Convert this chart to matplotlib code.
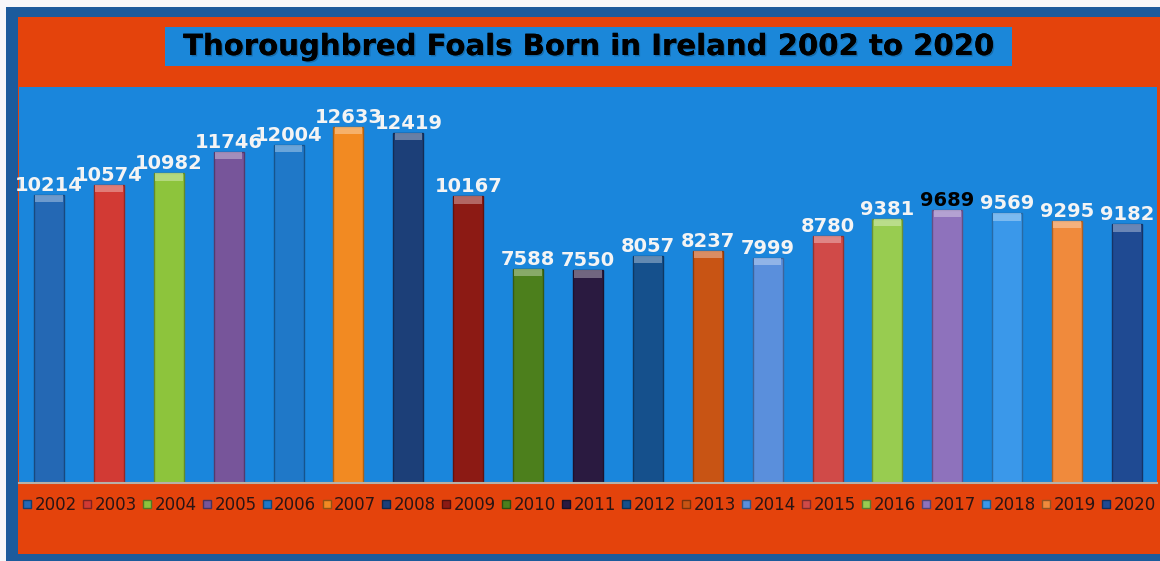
import numpy as np
import matplotlib
matplotlib.use("Agg")
import matplotlib.pyplot as plt
import matplotlib.colors as mcolors
import matplotlib.patheffects as pe
from matplotlib.patches import Rectangle
from matplotlib.lines import Line2D

years = ["2002", "2003", "2004", "2005", "2006", "2007", "2008", "2009", "2010",
         "2011", "2012", "2013", "2014", "2015", "2016", "2017", "2018", "2019", "2020"]
foals = [10214, 10574, 10982, 11746, 12004, 12633, 12419, 10167, 7588,
         7550, 8057, 8237, 7999, 8780, 9381, 9689, 9569, 9295, 9182]
bar_colors = ["#2468b4", "#d23a34", "#8dc43c", "#77559a", "#1f78c8", "#f28a22",
              "#1c3f78", "#8c1a14", "#4c7f1c", "#2a1a40", "#15508c", "#c85414",
              "#5a8fdc", "#d04a48", "#98cc50", "#8e72bc", "#3a98ea", "#f08a3c",
              "#1f4a92"]
label_colors = ["#f4f4f4"] * 19
label_colors[15] = "black"

title = "Thoroughbred Foals Born in Ireland 2002 to 2020"

W, H = 1160, 561
fig = plt.figure(figsize=(W / 100, H / 100), dpi=100)
fig.patch.set_facecolor("#f6f7f9")


def px_rect(x0, y0, x1, y1, color, z=-10):
    # rectangle given in image pixels (top-left origin)
    r = Rectangle((x0 / W, 1 - y1 / H), (x1 - x0) / W, (y1 - y0) / H,
                  transform=fig.transFigure, facecolor=color, edgecolor="none",
                  zorder=z)
    fig.patches.append(r)


# frame: dark blue border, orange panel, blue title box
px_rect(6, 7, W, H, "#1c5b9c", -12)
px_rect(18, 17, W, 554, "#e4430c", -11)
px_rect(165, 27, 1012, 66, "#1b87d9", -10)

fig.text(588 / W, 1 - 47 / H, title, ha="center", va="center",
         fontsize=21, fontweight="bold", color="black",
         path_effects=[pe.withSimplePatchShadow(offset=(1, -1),
                                                 shadow_rgbFace="black",
                                                 alpha=0.2),
                       pe.Normal()])

ax = fig.add_axes([19 / W, 1 - 483 / H, (1157 - 19) / W, (483 - 87) / H])
ax.set_facecolor("#1a86dc")

x = np.arange(len(years))
bars = ax.bar(x, foals, width=0.5, color=bar_colors, zorder=2,
              edgecolor=[tuple(np.array(mcolors.to_rgb(c)) * 0.7) for c in bar_colors],
              linewidth=1.0)

# lighter cap on top of each bar for the bevelled look
cap = 260
cap_colors = [tuple(np.array(mcolors.to_rgb(c)) * 0.55 + 0.45) for c in bar_colors]
ax.bar(x, cap, bottom=np.array(foals) - cap, width=0.46, color=cap_colors,
       alpha=0.75, zorder=3, linewidth=0)

for xi, v, lc in zip(x, foals, label_colors):
    ax.annotate(str(v), (xi, v), xytext=(0, 0), textcoords="offset points",
                ha="center", va="bottom", fontsize=14, fontweight="bold",
                color=lc, zorder=4, annotation_clip=False)

ax.set_xlim(-0.5, len(years) - 0.5)
ax.set_ylim(0, 14050)
ax.set_xticks([])
ax.set_yticks([])
for side in ["top", "left", "right"]:
    ax.spines[side].set_visible(False)
ax.spines["bottom"].set_color("#b8b0a8")
ax.spines["bottom"].set_linewidth(1.5)

handles = [Line2D([], [], marker="s", linestyle="none", markersize=6,
                  markerfacecolor=c,
                  markeredgecolor=tuple(np.array(mcolors.to_rgb(c)) * 0.6))
           for c in bar_colors]
fig.legend(handles, years, loc="center", ncol=len(years), mode="expand",
           bbox_to_anchor=(22 / W, 1 - 505 / H, (1156 - 22) / W, 0.0),
           frameon=False, fontsize=12, handlelength=0.6, handletextpad=0.15,
           borderaxespad=0, borderpad=0, labelcolor="#2a1414")

fig.savefig("out.png", dpi=100, facecolor=fig.get_facecolor())
